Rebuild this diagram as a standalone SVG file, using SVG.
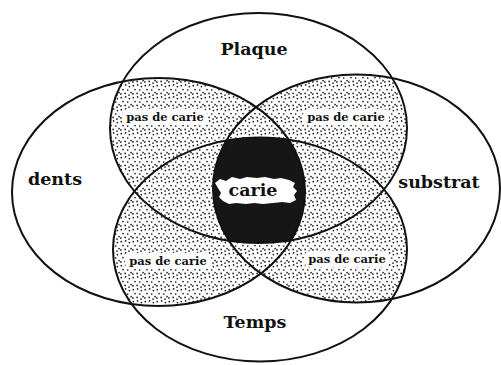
<svg xmlns="http://www.w3.org/2000/svg" width="501" height="365" viewBox="0 0 501 365">
  <style>
    .outline { fill: none; stroke: #111; stroke-width: 2; }
    .dots { fill: url(#stipple); }
    .big { font-family: "DejaVu Serif", "Liberation Serif", serif; font-weight: bold; font-size: 17.5px; fill: #111; text-anchor: middle; }
    .small { font-family: "DejaVu Serif", "Liberation Serif", serif; font-weight: bold; font-size: 11.5px; fill: #111; text-anchor: middle; }
    .patch { fill: #fff; }
  </style>
  <defs>
    <pattern id="stipple" patternUnits="userSpaceOnUse" width="12" height="12">
      <rect width="12" height="12" fill="#fff"/>
      <g fill="#1c1c1c">
        <circle cx="1.3" cy="1.7" r="0.85"/>
        <circle cx="5.6" cy="0.9" r="0.85"/>
        <circle cx="9.4" cy="2.6" r="0.85"/>
        <circle cx="3" cy="5.6" r="0.85"/>
        <circle cx="7.7" cy="6" r="0.85"/>
        <circle cx="11.1" cy="8.6" r="0.85"/>
        <circle cx="0.9" cy="9.9" r="0.85"/>
        <circle cx="5.1" cy="9.4" r="0.85"/>
        <circle cx="9" cy="11.1" r="0.85"/>
      </g>
    </pattern>
    <clipPath id="cP"><ellipse cx="258.5" cy="128" rx="148.5" ry="115"/></clipPath>
    <clipPath id="cD"><ellipse cx="158.5" cy="192" rx="146.5" ry="114"/></clipPath>
    <clipPath id="cS"><ellipse cx="356.5" cy="188.5" rx="143.5" ry="114"/></clipPath>
    <clipPath id="cT"><ellipse cx="260" cy="249.5" rx="147" ry="112"/></clipPath>
  </defs>

  <rect width="501" height="365" fill="#fff"/>

  <!-- stippled overlaps (regions shared by two or more sets) -->
  <g id="shading">
    <g clip-path="url(#cP)"><ellipse class="dots" cx="158.5" cy="192" rx="146.5" ry="114"/></g>
    <g clip-path="url(#cP)"><ellipse class="dots" cx="356.5" cy="188.5" rx="143.5" ry="114"/></g>
    <g clip-path="url(#cP)"><ellipse class="dots" cx="260" cy="249.5" rx="147" ry="112"/></g>
    <g clip-path="url(#cT)"><ellipse class="dots" cx="158.5" cy="192" rx="146.5" ry="114"/></g>
    <g clip-path="url(#cT)"><ellipse class="dots" cx="356.5" cy="188.5" rx="143.5" ry="114"/></g>
    <g clip-path="url(#cD)"><ellipse class="dots" cx="356.5" cy="188.5" rx="143.5" ry="114"/></g>
    <!-- all four: carie -->
    <g clip-path="url(#cP)"><g clip-path="url(#cT)"><g clip-path="url(#cD)">
      <ellipse cx="356.5" cy="188.5" rx="143.5" ry="114" fill="#161616"/>
    </g></g></g>
  </g>

  <g id="connectors"/>

  <g id="plaque">
    <ellipse class="outline" cx="258.5" cy="128" rx="148.5" ry="115"/>
    <text class="big" x="254" y="55">Plaque</text>
  </g>
  <g id="dents">
    <ellipse class="outline" cx="158.5" cy="192" rx="146.5" ry="114"/>
    <text class="big" x="55" y="185">dents</text>
  </g>
  <g id="substrat">
    <ellipse class="outline" cx="356.5" cy="188.5" rx="143.5" ry="114"/>
    <text class="big" x="439" y="188">substrat</text>
  </g>
  <g id="temps">
    <ellipse class="outline" cx="260" cy="249.5" rx="147" ry="112"/>
    <text class="big" x="255" y="328">Temps</text>
  </g>

  <g id="carie">
    <path class="patch" d="M215,183 l5,-4 l6,2 l6,-4 l8,2 l7,-2 l10,1 l8,-1 l9,2 l7,-1 l8,2 l6,3 l-2,4 l4,4 l-3,4 l2,5 l-6,3 l-8,-1 l-9,1 l-10,1 l-9,-1 l-8,1 l-10,-1 l-7,1 l-6,-3 l-4,-4 l2,-4 l-3,-5 z"/>
    <text class="big" x="253" y="196">carie</text>
  </g>

  <g id="pas-de-carie-1">
    <rect class="patch" x="122" y="109" width="86" height="16" rx="6"/>
    <text class="small" x="165" y="121">pas de carie</text>
  </g>
  <g id="pas-de-carie-2">
    <rect class="patch" x="303" y="109" width="86" height="16" rx="6"/>
    <text class="small" x="346" y="121">pas de carie</text>
  </g>
  <g id="pas-de-carie-3">
    <rect class="patch" x="125" y="253" width="86" height="16" rx="6"/>
    <text class="small" x="168" y="265">pas de carie</text>
  </g>
  <g id="pas-de-carie-4">
    <rect class="patch" x="304" y="251" width="86" height="16" rx="6"/>
    <text class="small" x="347" y="263">pas de carie</text>
  </g>
</svg>
